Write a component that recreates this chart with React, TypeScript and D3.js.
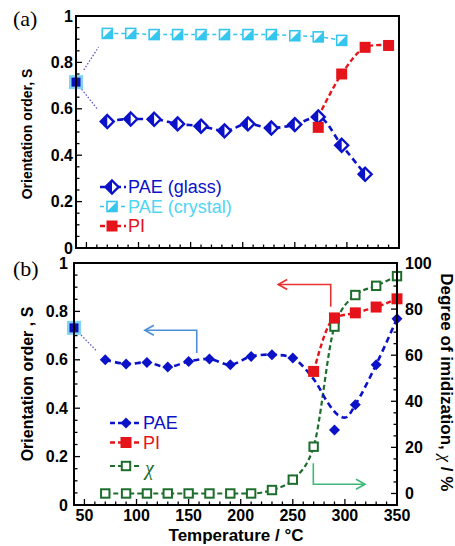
import React from "react";
import * as d3 from "d3";

// ---------- Panel (a) data ----------
const aTemps = [70, 92.5, 115, 137.5, 160, 182.5, 205, 227.5, 250, 272.5, 295, 317.5, 340];
const aCrystal = [0.925, 0.925, 0.92, 0.92, 0.92, 0.92, 0.92, 0.92, 0.915, 0.91, 0.895];
const aGlass = [0.545, 0.556, 0.555, 0.535, 0.525, 0.505, 0.535, 0.517, 0.532, 0.565, 0.443, 0.318];
const aPITemps = [272.5, 295, 317.5, 340];
const aPI = [0.52, 0.75, 0.865, 0.873];
const aPICurveTemps = [272.5, 295, 317.5, 340];
const aPICurve = [0.565, 0.75, 0.865, 0.873];
const aStartT = 40;
const aStartS = 0.715;

// ---------- Panel (b) data ----------
const bPAETemps = [70, 90, 110, 130, 150, 170, 190, 210, 230, 250, 290, 310, 330, 350];
const bPAE = [0.6, 0.583, 0.589, 0.57, 0.593, 0.603, 0.58, 0.614, 0.621, 0.607, 0.31, 0.414, 0.58, 0.77];
const bPAEFitTemps = [70, 90, 110, 130, 150, 170, 190, 210, 230, 250, 270, 284, 294, 301, 310, 330, 350];
const bPAEFit = [0.6, 0.583, 0.589, 0.57, 0.593, 0.603, 0.58, 0.614, 0.621, 0.607, 0.52, 0.42, 0.37, 0.362, 0.414, 0.58, 0.77];
const bPITemps = [270, 290, 310, 330, 350];
const bPI = [0.552, 0.773, 0.794, 0.818, 0.852];
const bChiTemps = [70, 90, 110, 130, 150, 170, 190, 210, 230, 250, 270, 290, 310, 330, 350];
const bChi = [0, 0, 0, 0, 0, 0, 0, 0, 1.5, 6, 20.3, 72.4, 86.1, 90.1, 94.3];
const bStartT = 40;
const bStartS = 0.732;

const xTicks = [50, 100, 150, 200, 250, 300, 350];
const sTicks = [0, 0.2, 0.4, 0.6, 0.8, 1];
const chiTicks = [0, 20, 40, 60, 80, 100];

const BLUE = "#0b12c8";
const CYAN = "#35c6ee";
const RED = "#e5141a";
const GREEN = "#1d6e2c";
const ARROW_BLUE = "#4a8fd6";
const ARROW_RED = "#e83232";
const ARROW_GREEN = "#3cb878";

const SANS = "'Liberation Sans', Arial, sans-serif";

function range(a: number, b: number, step: number) {
  const out: number[] = [];
  for (let v = a; v <= b + 1e-9; v += step) out.push(Math.round(v * 1000) / 1000);
  return out;
}

function StartSquare({ x, y }: { x: number; y: number }) {
  return (
    <g>
      <rect x={x - 7} y={y - 7} width={14} height={14} fill="#7fd3f5" />
      <rect x={x - 4.5} y={y - 4.5} width={9} height={9} fill="#1010b8" />
    </g>
  );
}

export default function App() {
  const xA = d3.scaleLinear().domain([40, 350]).range([76, 399]);
  const yA = d3.scaleLinear().domain([0, 1]).range([248, 16]);
  const xB = d3.scaleLinear().domain([40, 350]).range([74, 397]);
  const yB = d3.scaleLinear().domain([0, 1]).range([505, 263]);
  const yC = d3.scaleLinear().domain([-5, 100]).range([505, 263]);

  const lineA = (ts: number[], vs: number[], curve: any = d3.curveMonotoneX) =>
    d3
      .line<number>()
      .x((_, i) => xA(ts[i]))
      .y((v) => yA(v))
      .curve(curve)(vs) || "";
  const lineB = (ts: number[], vs: number[], y: any, curve: any = d3.curveMonotoneX) =>
    d3
      .line<number>()
      .x((_, i) => xB(ts[i]))
      .y((v) => y(v))
      .curve(curve)(vs) || "";

  const minorX = range(40, 350, 10);
  const minorS = range(0, 1, 0.05);
  const minorChi = range(-5, 100, 5);

  const dotted = (x1: number, y1: number, x2: number, y2: number, frac0: number, frac1: number) => {
    const ax = x1 + (x2 - x1) * frac0;
    const ay = y1 + (y2 - y1) * frac0;
    const bx = x1 + (x2 - x1) * frac1;
    const by = y1 + (y2 - y1) * frac1;
    return <line x1={ax} y1={ay} x2={bx} y2={by} stroke="#5b5bc8" strokeWidth={1.3} strokeDasharray="1.5 1.8" />;
  };

  const diamondHalf = (cx: number, cy: number, key: any) => (
    <g key={key} transform={`translate(${cx},${cy})`}>
      <path d="M0,-6.5L6.5,0L0,6.5L-6.5,0Z" fill="white" stroke={BLUE} strokeWidth={2.4} />
      <path d="M0,-6.5L-6.5,0L0,6.5Z" fill={BLUE} />
    </g>
  );
  const crystalSq = (cx: number, cy: number, key: any) => (
    <g key={key} transform={`translate(${cx},${cy})`}>
      <rect x={-5} y={-5} width={10} height={10} fill="white" stroke={CYAN} strokeWidth={1.6} />
      <path d="M5,-5L5,5L-5,5Z" fill={CYAN} />
    </g>
  );
  const redSq = (cx: number, cy: number, key: any) => (
    <rect key={key} x={cx - 5.5} y={cy - 5.5} width={11} height={11} fill={RED} />
  );
  const blueDiamond = (cx: number, cy: number, key: any) => (
    <path key={key} transform={`translate(${cx},${cy})`} d="M0,-5.5L5.5,0L0,5.5L-5.5,0Z" fill={BLUE} />
  );
  const greenSq = (cx: number, cy: number, key: any) => (
    <rect key={key} x={cx - 4.2} y={cy - 4.2} width={8.4} height={8.4} fill="white" stroke={GREEN} strokeWidth={2} />
  );

  const tickFont = { fontFamily: SANS, fontWeight: 700, fontSize: 16 } as any;

  const arrowHead = (tx: number, ty: number, dir: number, color: string) => (
    <path
      d={`M${tx - dir * 9},${ty - 5}L${tx},${ty}L${tx - dir * 9},${ty + 5}`}
      fill="none"
      stroke={color}
      strokeWidth={1.6}
    />
  );

  return (
    <svg
      width={455}
      height={546}
      style={{ position: "absolute", left: 0, top: 0, background: "white" }}
      xmlns="http://www.w3.org/2000/svg"
    >
      <rect width={455} height={546} fill="white" />

      {/* ================= Panel (a) ================= */}
      <text x={13} y={26} fontFamily="'Liberation Serif', 'Times New Roman', serif" fontSize={22}>
        (a)
      </text>
      {minorX.map((t) => (
        <line key={"ax" + t} x1={xA(t)} x2={xA(t)} y1={yA(0)} y2={yA(0) - (t % 50 === 0 ? 6 : 3.5)} stroke="black" strokeWidth={1.3} />
      ))}
      {minorS.map((s) => (
        <line key={"ay" + s} x1={xA(40)} x2={xA(40) + (Math.round(s * 100) % 20 === 0 ? 6 : 3.5)} y1={yA(s)} y2={yA(s)} stroke="black" strokeWidth={1.3} />
      ))}
      {sTicks.map((s) => (
        <text key={"al" + s} x={73} y={yA(s)} textAnchor="end" dominantBaseline="central" {...tickFont}>
          {s === 0 || s === 1 ? String(s) : s.toFixed(1)}
        </text>
      ))}
      <text
        transform={`translate(27,${yA(0.5) + 2}) rotate(-90)`}
        textAnchor="middle"
        dominantBaseline="central"
        fontFamily={SANS}
        fontWeight={700}
        fontSize={14}
      >
        Orientation order, S
      </text>

      {dotted(xA(aStartT), yA(aStartS), xA(aTemps[0]), yA(aCrystal[0]), 0.25, 0.72)}
      {dotted(xA(aStartT), yA(aStartS), xA(aTemps[0]), yA(aGlass[0]), 0.18, 0.68)}

      <path d={lineA(aTemps.slice(0, aCrystal.length), aCrystal)} fill="none" stroke={CYAN} strokeWidth={1.5} strokeDasharray="4 3" />
      <path d={lineA(aTemps.slice(0, aGlass.length), aGlass)} fill="none" stroke={BLUE} strokeWidth={2.6} strokeDasharray="6 4" />
      <path d={lineA(aPICurveTemps, aPICurve, d3.curveCatmullRom)} fill="none" stroke={RED} strokeWidth={2.4} strokeDasharray="5 3" />

      {aCrystal.map((v, i) => crystalSq(xA(aTemps[i]), yA(v), "c" + i))}
      {aGlass.map((v, i) => diamondHalf(xA(aTemps[i]), yA(v), "g" + i))}
      {aPI.map((v, i) => redSq(xA(aPITemps[i]), yA(v), "p" + i))}
      <StartSquare x={xA(aStartT)} y={yA(aStartS)} />

      <g>
        <line x1={100} x2={126} y1={187} y2={187} stroke={BLUE} strokeWidth={2.4} strokeDasharray="5 3" />
        {diamondHalf(112, 187, "lg")}
        <text x={128} y={187} dominantBaseline="central" fill={BLUE} fontFamily={SANS} fontSize={18}>
          PAE (glass)
        </text>
        <line x1={100} x2={126} y1={206.5} y2={206.5} stroke={CYAN} strokeWidth={1.5} strokeDasharray="4 3" />
        {crystalSq(112, 206.5, "lc")}
        <text x={128} y={206.5} dominantBaseline="central" fill="#4fd6f2" fontFamily={SANS} fontSize={18}>
          PAE (crystal)
        </text>
        <line x1={100} x2={126} y1={226} y2={226} stroke={RED} strokeWidth={2.4} strokeDasharray="5 3" />
        {redSq(112, 226, "lp")}
        <text x={128} y={226} dominantBaseline="central" fill={RED} fontFamily={SANS} fontSize={18}>
          PI
        </text>
      </g>

      <rect x={76} y={16} width={323} height={232} fill="none" stroke="black" strokeWidth={2} />

      {/* ================= Panel (b) ================= */}
      <text x={13} y={276} fontFamily="'Liberation Serif', 'Times New Roman', serif" fontSize={22}>
        (b)
      </text>
      {minorX.map((t) => (
        <line key={"bx" + t} x1={xB(t)} x2={xB(t)} y1={yB(0)} y2={yB(0) - (t % 50 === 0 ? 6 : 3.5)} stroke="black" strokeWidth={1.3} />
      ))}
      {minorS.map((s) => (
        <line key={"by" + s} x1={xB(40)} x2={xB(40) + (Math.round(s * 100) % 20 === 0 ? 6 : 3.5)} y1={yB(s)} y2={yB(s)} stroke="black" strokeWidth={1.3} />
      ))}
      {minorChi.map((c) => (
        <line key={"bc" + c} x1={xB(350)} x2={xB(350) - (c % 20 === 0 ? 6 : 3.5)} y1={yC(c)} y2={yC(c)} stroke="black" strokeWidth={1.3} />
      ))}
      {sTicks.map((s) => (
        <text key={"bl" + s} x={68} y={yB(s)} textAnchor="end" dominantBaseline="central" {...tickFont}>
          {s === 0 || s === 1 ? String(s) : s.toFixed(1)}
        </text>
      ))}
      {chiTicks.map((c) => (
        <text key={"br" + c} x={405} y={yC(c)} textAnchor="start" dominantBaseline="central" {...tickFont}>
          {c}
        </text>
      ))}
      {xTicks.map((t) => (
        <text key={"bt" + t} x={xB(t)} y={515} textAnchor="middle" dominantBaseline="central" {...tickFont}>
          {t}
        </text>
      ))}
      <text
        transform={`translate(27,${yB(0.5)}) rotate(-90)`}
        textAnchor="middle"
        dominantBaseline="central"
        fontFamily={SANS}
        fontWeight={700}
        fontSize={16}
      >
        Orientation order , S
      </text>
      <text
        transform={`translate(446,${(yC(100) + yC(0)) / 2 + 4}) rotate(90)`}
        textAnchor="middle"
        dominantBaseline="central"
        fontFamily={SANS}
        fontWeight={700}
        fontSize={17}
      >
        Degree of imidization,{" "}
        <tspan fontFamily="'Liberation Serif', serif" fontStyle="italic" fontWeight={400}>
          χ
        </tspan>{" "}
        / %
      </text>
      <text x={236} y={541} textAnchor="middle" fontFamily={SANS} fontWeight={700} fontSize={17}>
        Temperature / °C
      </text>

      {dotted(xB(bStartT), yB(bStartS), xB(bPAETemps[0]), yB(bPAE[0]), 0.15, 0.7)}

      <path d={lineB(bChiTemps, bChi, yC)} fill="none" stroke={GREEN} strokeWidth={2.2} strokeDasharray="5 3" />
      <path d={lineB(bPAEFitTemps, bPAEFit, yB, d3.curveCatmullRom)} fill="none" stroke={BLUE} strokeWidth={2.6} strokeDasharray="6 4" />
      <path d={lineB(bPITemps, bPI, yB)} fill="none" stroke={RED} strokeWidth={2.4} strokeDasharray="5 3" />

      {bChi.map((v, i) => greenSq(xB(bChiTemps[i]), yC(v), "x" + i))}
      {bPAE.map((v, i) => blueDiamond(xB(bPAETemps[i]), yB(v), "d" + i))}
      {bPI.map((v, i) => redSq(xB(bPITemps[i]), yB(v), "q" + i))}
      <StartSquare x={xB(bStartT)} y={yB(bStartS)} />

      <path
        d={`M${xB(157.8)},${yB(0.628)}L${xB(157.8)},${yB(0.722)}L${xB(108)},${yB(0.722)}`}
        fill="none"
        stroke={ARROW_BLUE}
        strokeWidth={1.6}
      />
      {arrowHead(xB(108), yB(0.722), -1, ARROW_BLUE)}
      <path
        d={`M${xB(286.4)},${yB(0.819)}L${xB(286.4)},${yB(0.911)}L${xB(236)},${yB(0.911)}`}
        fill="none"
        stroke={ARROW_RED}
        strokeWidth={1.6}
      />
      {arrowHead(xB(236), yB(0.911), -1, ARROW_RED)}
      <path
        d={`M${xB(269.7)},${yC(13.1)}L${xB(269.7)},${yC(4)}L${xB(319.3)},${yC(4)}`}
        fill="none"
        stroke={ARROW_GREEN}
        strokeWidth={1.6}
      />
      {arrowHead(xB(319.3), yC(4), 1, ARROW_GREEN)}

      <g>
        <line x1={110} x2={142} y1={423} y2={423} stroke={BLUE} strokeWidth={2.4} strokeDasharray="5 3" />
        {blueDiamond(126, 423, "lb")}
        <text x={143} y={423} dominantBaseline="central" fill={BLUE} fontFamily={SANS} fontSize={18}>
          PAE
        </text>
        <line x1={110} x2={142} y1={442.5} y2={442.5} stroke={RED} strokeWidth={2.4} strokeDasharray="5 3" />
        {redSq(126, 442.5, "lr")}
        <text x={143} y={442.5} dominantBaseline="central" fill={RED} fontFamily={SANS} fontSize={18}>
          PI
        </text>
        <line x1={110} x2={142} y1={466} y2={466} stroke={GREEN} strokeWidth={2.2} strokeDasharray="5 3" />
        {greenSq(126, 466, "lx")}
        <text x={145} y={468} dominantBaseline="central" fill={GREEN} fontFamily="'Liberation Serif', serif" fontStyle="italic" fontSize={20}>
          χ
        </text>
      </g>

      <rect x={74} y={263} width={323} height={242} fill="none" stroke="black" strokeWidth={2} />
    </svg>
  );
}
